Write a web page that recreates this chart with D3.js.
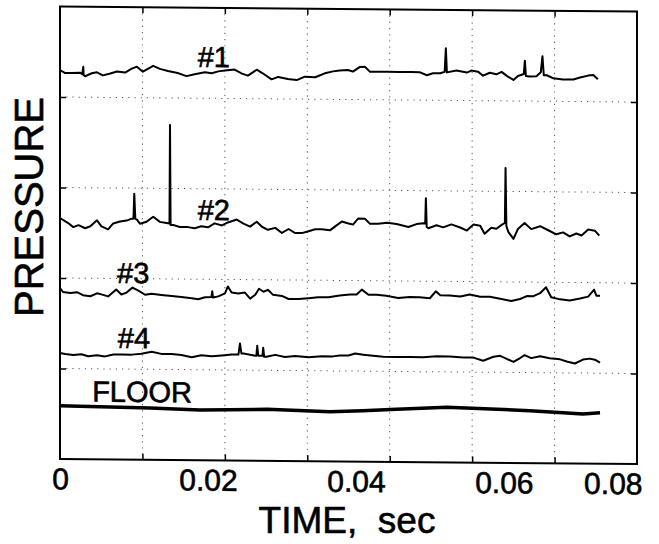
<!DOCTYPE html>
<html>
<head>
<meta charset="utf-8">
<script src="https://cdn.jsdelivr.net/npm/d3@7"></script>
<style>
  body { margin: 0; background: #fff; }
  svg { display: block; font-family: "Liberation Sans", Arial, Helvetica, sans-serif; }
  text { stroke: #000; stroke-width: 0.6px; fill: #000; }
</style>
</head>
<body>
<svg id="canvas"></svg>
<script>
// traces: [time (s), pressure (arb. units, stacked)]
const series1 = [
  [0, 38.9], [.0007, 38.6], [.0016, 38.6], [.0027, 38.65], [.0030, 38.5], [.00315, 39.25], [.0032, 38.4],
  [.0034, 38.3], [.0043, 38.6], [.0050, 38.7], [.0058, 38.4], [.0068, 38.6], [.0077, 38.8], [.0088, 38.7],
  [.0097, 39.1], [.0104, 39.3], [.0112, 38.8], [.0126, 39.4], [.0135, 39.1], [.0146, 38.9], [.0159, 38.7],
  [.0171, 38.4], [.0182, 38.6], [.0196, 38.8], [.0205, 38.7], [.0214, 38.9], [.0223, 39.0], [.0236, 39.1],
  [.0246, 38.7], [.0254, 38.5], [.0266, 39.1], [.0274, 38.75], [.0286, 38.15], [.0295, 38.4], [.0308, 38.2],
  [.0320, 38.1], [.0331, 38.45], [.0345, 38.4], [.0358, 38.8], [.0369, 39.0], [.0378, 39.1], [.0389, 39.15],
  [.0396, 39.0], [.0405, 39.45], [.0412, 39.5], [.0419, 39.0], [.0432, 39.0], [.0443, 39.0], [.0459, 39.0],
  [.0475, 39.0], [.0486, 39.0], [.0496, 38.7], [.0504, 38.9], [.0514, 38.9], [.0520, 39.05], [.05216, 41.4],
  [.0523, 39.0], [.0536, 39.2], [.0550, 39.0], [.0556, 39.2], [.0565, 39.1], [.0572, 38.7], [.0581, 39.0],
  [.0590, 38.85], [.0597, 39.1], [.0604, 38.7], [.0613, 38.3], [.0619, 38.7], [.0627, 38.9], [.06284, 40.24],
  [.06298, 38.7], [.0635, 38.65], [.0644, 38.7], [.0650, 39.1], [.06522, 40.7], [.0654, 38.8], [.0658, 38.8],
  [.0667, 38.5], [.0680, 38.4], [.0694, 38.4], [.0703, 38.6], [.0714, 38.8], [.0721, 38.87], [.0727, 38.45]
];

const series2 = [
  [0, 24.1], [.0011, 23.6], [.0018, 23.2], [.0025, 23.4], [.0034, 23.1], [.0041, 23.3], [.0050, 23.9],
  [.0056, 23.3], [.0065, 23.0], [.0072, 23.6], [.0081, 23.8], [.0090, 23.9], [.0097, 24.1], [.00993, 24.1],
  [.01004, 26.6], [.01018, 24.1], [.0104, 24.0], [.0108, 23.6], [.0117, 23.8], [.0126, 24.3], [.0135, 23.8],
  [.0144, 23.7], [.01480, 23.65], [.01487, 33.5], [.01495, 23.5], [.0153, 23.5], [.0162, 23.3], [.0173, 23.3],
  [.0182, 23.2], [.0191, 23.4], [.0200, 23.3], [.0209, 23.7], [.0219, 23.5], [.0227, 23.8], [.0239, 24.1],
  [.0248, 23.7], [.0257, 23.4], [.0266, 23.9], [.0273, 23.4], [.0281, 23.1], [.0291, 23.3], [.0300, 22.8],
  [.0309, 23.2], [.0318, 22.8], [.0327, 22.8], [.0336, 23.0], [.0345, 23.2], [.0354, 23.2], [.0365, 23.1],
  [.0372, 23.5], [.0381, 24.0], [.0390, 23.8], [.0396, 23.7], [.0403, 24.3], [.0412, 24.3], [.0419, 23.8],
  [.0430, 23.8], [.0442, 23.9], [.0455, 23.8], [.0471, 23.5], [.0482, 23.8], [.0491, 23.9], [.04937, 23.87],
  [.04946, 26.4], [.04957, 23.52], [.0498, 23.4], [.0509, 23.7], [.0518, 23.5], [.0529, 23.8], [.0541, 23.5],
  [.0550, 23.2], [.0559, 23.8], [.0568, 23.7], [.0574, 22.9], [.0583, 23.5], [.0590, 23.4], [.0597, 23.8],
  [.06014, 24.0], [.06023, 29.5], [.06034, 23.7], [.0606, 23.1], [.0613, 22.4], [.0619, 23.4], [.0628, 24.0],
  [.0637, 23.4], [.0649, 23.7], [.0660, 23.3], [.0671, 22.9], [.0680, 23.1], [.0689, 22.7], [.0698, 23.0],
  [.0705, 22.8], [.0714, 23.4], [.0723, 23.3], [.0729, 22.8]
];

const series3 = [
  [0, 17.1], [.0004, 16.7], [.0014, 16.6], [.0023, 16.7], [.0031, 16.4], [.0041, 16.3], [.0050, 16.6],
  [.0056, 16.5], [.0065, 16.3], [.0076, 17.0], [.0083, 16.5], [.0090, 16.7], [.0098, 17.2], [.0106, 16.9],
  [.0115, 16.5], [.0124, 16.6], [.0137, 16.5], [.0151, 16.4], [.0164, 16.3], [.0178, 16.2], [.0187, 16.1],
  [.0196, 16.3], [.02047, 16.33], [.02058, 16.9], [.02068, 16.28], [.0214, 16.4], [.0223, 16.7], [.0227, 17.4],
  [.0232, 16.8], [.0241, 16.7], [.0250, 16.8], [.0257, 16.2], [.0264, 16.6], [.0269, 17.2], [.0275, 16.9],
  [.0281, 17.1], [.0288, 16.6], [.0300, 16.5], [.0309, 16.2], [.0322, 16.2], [.0336, 16.3], [.0349, 16.4],
  [.0363, 16.4], [.0378, 16.6], [.0392, 16.7], [.0401, 16.7], [.0408, 17.2], [.0417, 16.7], [.0428, 16.7],
  [.0441, 16.6], [.0457, 16.4], [.0473, 16.5], [.0486, 16.5], [.0500, 16.4], [.0508, 17.1], [.0514, 16.7],
  [.0527, 16.7], [.0541, 16.6], [.0554, 16.8], [.0568, 16.6], [.0581, 16.6], [.0595, 16.4], [.0610, 16.2],
  [.0622, 16.4], [.0631, 16.7], [.0640, 16.7], [.0649, 17.0], [.0657, 17.6], [.0664, 16.6], [.0676, 16.4],
  [.0689, 16.3], [.0703, 16.5], [.0714, 16.7], [.0722, 17.4], [.0725, 16.8], [.0730, 16.8]
];

const series4 = [
  [0, 10.6], [.0007, 10.5], [.0018, 10.4], [.0029, 10.5], [.0038, 10.3], [.0050, 10.4], [.0061, 10.3],
  [.0072, 10.5], [.0083, 10.5], [.0097, 10.5], [.0110, 10.6], [.0124, 10.8], [.0137, 10.6], [.0151, 10.6],
  [.0164, 10.5], [.0178, 10.3], [.0191, 10.5], [.0205, 10.4], [.0219, 10.5], [.0232, 10.6], [.0239, 10.6],
  [.02412, 10.6], [.02433, 11.7], [.02453, 10.7], [.0248, 10.7], [.0257, 10.6], [.0264, 10.5], [.02655, 10.5],
  [.02666, 11.5], [.02680, 10.5], [.0270, 10.5], [.02737, 10.5], [.02747, 11.3], [.02760, 10.4], [.0279, 10.4],
  [.0291, 10.6], [.0304, 10.4], [.0318, 10.5], [.0336, 10.4], [.0354, 10.5], [.0369, 10.5], [.0378, 10.6],
  [.0390, 10.6], [.0399, 10.8], [.0410, 10.7], [.0423, 10.6], [.0437, 10.5], [.0455, 10.5], [.0473, 10.5],
  [.0491, 10.5], [.0509, 10.6], [.0527, 10.6], [.0545, 10.5], [.0559, 10.5], [.0572, 10.2], [.0586, 10.6],
  [.0595, 10.7], [.0601, 10.5], [.0613, 10.1], [.0622, 10.5], [.0628, 10.8], [.0637, 10.5], [.0649, 10.7],
  [.0662, 10.5], [.0676, 10.4], [.0685, 10.2], [.0696, 10.0], [.0707, 10.4], [.0716, 10.5], [.0723, 10.4],
  [.0730, 10.1]
];

const seriesFloor = [
  [0, 5.33], [.0054, 5.27], [.0122, 5.18], [.0189, 5.02], [.0280, 5.15], [.0365, 4.97], [.0409, 5.09],
  [.0455, 5.26], [.0523, 5.51], [.0591, 5.35], [.0635, 5.24], [.0680, 5.07], [.0707, 4.95], [.0730, 5.10]
];

const seriesNames = ['#1', '#2', '#3', '#4', 'FLOOR'];
const xTickValues = [0, 0.02, 0.04, 0.06, 0.08];
const xTickLabels = ['0', '0.02', '0.04', '0.06', '0.08'];
const xTitle = 'TIME,  sec';
const yTitle = 'PRESSURE';

// axis extents
const frameEndTime = 0.078;   // time at right edge of the frame
const pressureMax = 45.25;    // top of the frame
const gridCols = 7;
const gridRows = 5;

let width = 659;
let height = 544;
let plotLeft = 60;
let plotRight = 637;
let plotTop = 6.5;
let plotBottom = 459;

// where the trace names sit, in data units
let labelAnchors = [[.0208, 39.33], [.0208, 24.03], [.0099, 17.66], [.0100, 11.16], [.0111, 5.77]];

let xScale;
let yScale;

let canvas = d3.select('#canvas');
canvas.attr('width', width);
canvas.attr('height', height);

// scanned page is sheared slightly, right side sits lower
let plot = canvas.append('g')
    .attr('transform', 'translate(' + plotLeft + ',0) skewY(0.5) translate(' + (-plotLeft) + ',0)');

function generateScales () {
    xScale = d3.scaleLinear()
                .domain([0, frameEndTime])
                .range([plotLeft, plotRight]);

    yScale = d3.scaleLinear()
                .domain([0, pressureMax])
                .range([plotBottom, plotTop]);
}

function drawGrid () {
    let gridTimes = d3.range(1, gridCols).map((i) => i * frameEndTime / gridCols);
    let gridPressures = d3.range(1, gridRows).map((i) => i * pressureMax / gridRows);

    // faint dotted grid
    plot.append('g').selectAll('line')
        .data(gridTimes)
        .enter()
        .append('line')
        .attr('x1', (d) => xScale(d)).attr('x2', (d) => xScale(d))
        .attr('y1', plotTop).attr('y2', plotBottom)
        .attr('stroke', '#555')
        .attr('stroke-width', 1)
        .attr('stroke-dasharray', '1.2,5');

    plot.append('g').selectAll('line')
        .data(gridPressures)
        .enter()
        .append('line')
        .attr('y1', (d) => yScale(d)).attr('y2', (d) => yScale(d))
        .attr('x1', plotLeft).attr('x2', plotRight)
        .attr('stroke', '#555')
        .attr('stroke-width', 1)
        .attr('stroke-dasharray', '1.2,5');

    // inward ticks on all four sides
    let axes = [
        [d3.axisBottom(xScale).tickValues(gridTimes), 'translate(0,' + plotBottom + ')'],
        [d3.axisTop(xScale).tickValues(gridTimes), 'translate(0,' + plotTop + ')'],
        [d3.axisLeft(yScale).tickValues(gridPressures), 'translate(' + plotLeft + ',0)'],
        [d3.axisRight(yScale).tickValues(gridPressures), 'translate(' + plotRight + ',0)']
    ];
    axes.forEach((a) => {
        let g = plot.append('g')
            .attr('transform', a[1])
            .call(a[0].tickSize(-6).tickFormat(''));
        g.select('.domain').remove();
        g.selectAll('line').attr('stroke', '#000').attr('stroke-width', 1.5);
    });

    plot.append('rect')
        .attr('x', plotLeft)
        .attr('y', plotTop)
        .attr('width', plotRight - plotLeft)
        .attr('height', plotBottom - plotTop)
        .attr('fill', 'none')
        .attr('stroke', '#000')
        .attr('stroke-width', 2);
}

function drawTraces () {
    let line = d3.line()
        .x((d) => xScale(d[0]))
        .y((d) => yScale(d[1]));

    let all = [series1, series2, series3, series4, seriesFloor];

    plot.append('g').selectAll('path')
        .data(all)
        .enter()
        .append('path')
        .attr('d', (d) => line(d))
        .attr('fill', 'none')
        .attr('stroke', '#000')
        .attr('stroke-width', (d, i) => i === 4 ? 3.5 : 2)
        .attr('stroke-linejoin', 'round');

    plot.append('g').selectAll('text')
        .data(seriesNames)
        .enter()
        .append('text')
        .attr('x', (d, i) => xScale(labelAnchors[i][0]))
        .attr('y', (d, i) => yScale(labelAnchors[i][1]))
        .attr('text-anchor', 'middle')
        .attr('font-size', 29)
        .text((d) => d);
}

function drawAxisLabels () {
    let xAxis = d3.axisBottom(xScale)
                    .tickValues(xTickValues)
                    .tickSize(0)
                    .tickPadding(9)
                    .tickFormat((d, i) => xTickLabels[i]);

    let g = plot.append('g')
            .attr('transform', 'translate(0,' + plotBottom + ')')
            .call(xAxis);
    g.select('.domain').remove();
    g.selectAll('text')
        .attr('font-size', 30)
        .attr('font-family', null)
        .attr('fill', '#000');
    // the last label would run past the frame: right-align it at the edge
    g.selectAll('.tick')
        .filter((d) => xScale(d) > plotRight)
        .select('text')
        .attr('text-anchor', 'end')
        .attr('x', (d) => plotRight + 5 - xScale(d));

    canvas.append('text')
        .attr('x', 347)
        .attr('y', 533)
        .attr('text-anchor', 'middle')
        .attr('font-size', 37)
        .style('white-space', 'pre')
        .text(xTitle);

    canvas.append('text')
        .attr('transform', 'translate(43,207) rotate(-90)')
        .attr('text-anchor', 'middle')
        .attr('font-size', 40)
        .text(yTitle);
}

generateScales();
drawGrid();
drawTraces();
drawAxisLabels();
</script>
</body>
</html>
